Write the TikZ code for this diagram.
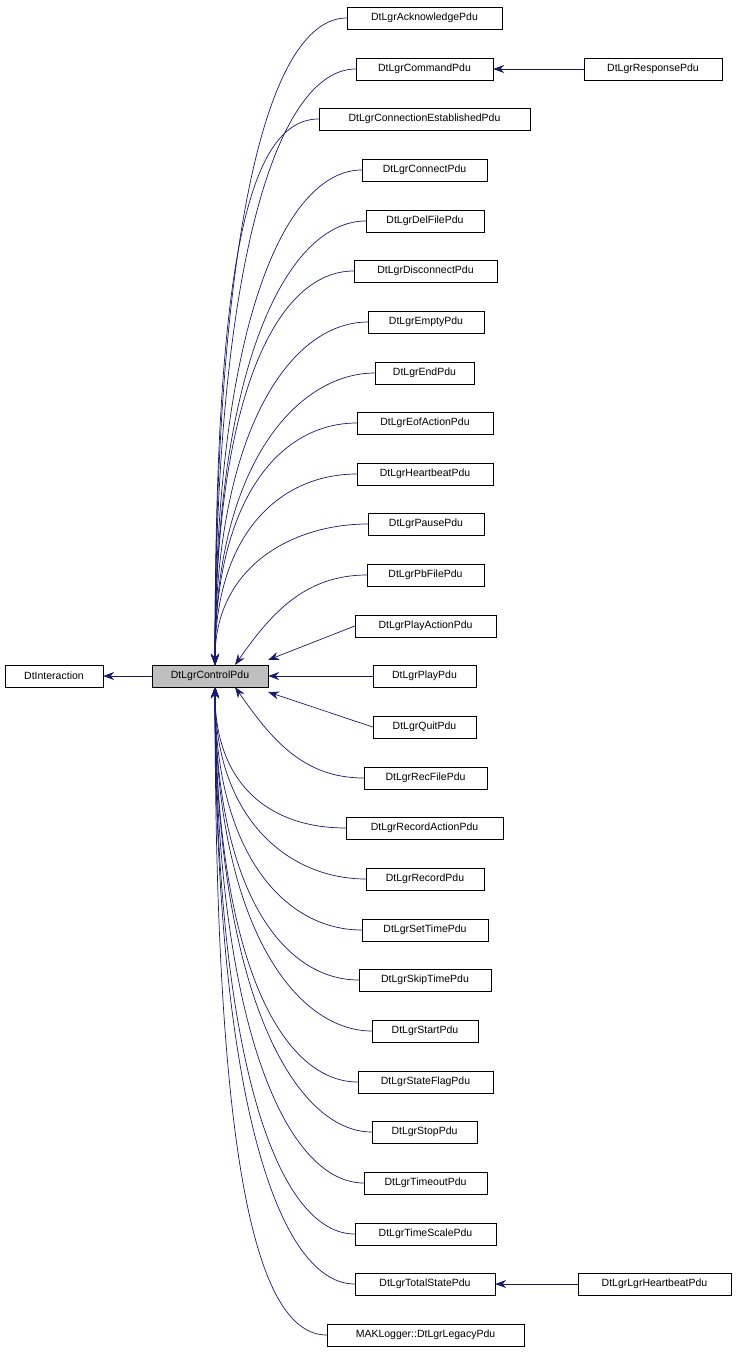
\documentclass[tikz,border=0pt]{standalone}
\usepackage{fontspec}
\setmainfont{Liberation Sans}
\usetikzlibrary{arrows.meta}
\definecolor{edgec}{HTML}{191970}
\begin{document}
\begin{tikzpicture}[x=1pt,y=-1pt,
  cls/.style={draw=black,fill=white,minimum height=22pt,inner sep=0pt,font=\fontsize{10.5}{12}\selectfont},
  edge/.style={draw=edgec,-{Stealth[length=11pt,width=8pt]},line width=0.7pt}]
\useasboundingbox (0,0) rectangle (736,1355);
\node[cls,fill={rgb,255:red,191;green,191;blue,191},minimum width=116pt] (ctl) at (210,676) {DtLgrControlPdu};
\node[cls,minimum width=98pt] (dti) at (54,676) {DtInteraction};
\node[cls,minimum width=138pt] (resp) at (653,69) {DtLgrResponsePdu};
\node[cls,minimum width=153pt] (lhb) at (654.5,1284) {DtLgrLgrHeartbeatPdu};
\foreach \n/\y/\xa/\xb/\t in {
 a/18/347/502/DtLgrAcknowledgePdu,
 b/69/356/493/DtLgrCommandPdu,
 c/119/319/530/DtLgrConnectionEstablishedPdu,
 d/170/362/487/DtLgrConnectPdu,
 e/221/366/484/DtLgrDelFilePdu,
 f/271/354/497/DtLgrDisconnectPdu,
 g/322/368/484/DtLgrEmptyPdu,
 h/373/375/474/DtLgrEndPdu,
 i/423/357/493/DtLgrEofActionPdu,
 j/474/357/493/DtLgrHeartbeatPdu,
 k/524/368/484/DtLgrPausePdu,
 l/575/367/484/DtLgrPbFilePdu,
 m/626/355/496/DtLgrPlayActionPdu,
 n/676/373/476/DtLgrPlayPdu,
 o/727/373/476/DtLgrQuitPdu,
 p/778/364/487/DtLgrRecFilePdu,
 q/828/346/503/DtLgrRecordActionPdu,
 r/879/366/484/DtLgrRecordPdu,
 s/930/362/488/DtLgrSetTimePdu,
 t/980/359/491/DtLgrSkipTimePdu,
 u/1031/372/478/DtLgrStartPdu,
 v/1082/358/493/DtLgrStateFlagPdu,
 w/1132/372/477/DtLgrStopPdu,
 x/1183/364/487/DtLgrTimeoutPdu,
 y/1234/355/496/DtLgrTimeScalePdu,
 z/1284/355/495/DtLgrTotalStatePdu,
 zz/1335/327/524/MAKLogger::DtLgrLegacyPdu}{
 \pgfmathsetmacro\cx{(\xa+\xb)/2}
 \pgfmathsetmacro\w{\xb-\xa}
 \pgfmathsetmacro\ca{\y+0.3*(665-\y)}
 \pgfmathsetmacro\cb{\y+0.3*(687-\y)}
 \node[cls,minimum width=\w pt] (\n) at (\cx,\y) {\t};
 \ifnum\y<570
   \draw[edge] (\n.west) .. controls +(-75,0) and (215,\ca) .. (215,665);
 \else\ifnum\y<600
   \draw[edge] (\n.west) to[out=180,in=55] (235,665);
 \else\ifnum\y<650
   \draw[edge] (\n.west) -- (268,660);
 \else\ifnum\y<700
   \draw[edge] (\n.west) -- (ctl.east);
 \else\ifnum\y<750
   \draw[edge] (\n.west) -- (268,692);
 \else\ifnum\y<800
   \draw[edge] (\n.west) to[out=180,in=-55] (235,687);
 \else
   \draw[edge] (\n.west) .. controls +(-75,0) and (215,\cb) .. (215,687);
 \fi\fi\fi\fi\fi\fi
}
\draw[edge] (ctl.west) -- (dti.east);
\draw[edge] (resp.west) -- (b.east);
\draw[edge] (lhb.west) -- (z.east);
\end{tikzpicture}
\end{document}
